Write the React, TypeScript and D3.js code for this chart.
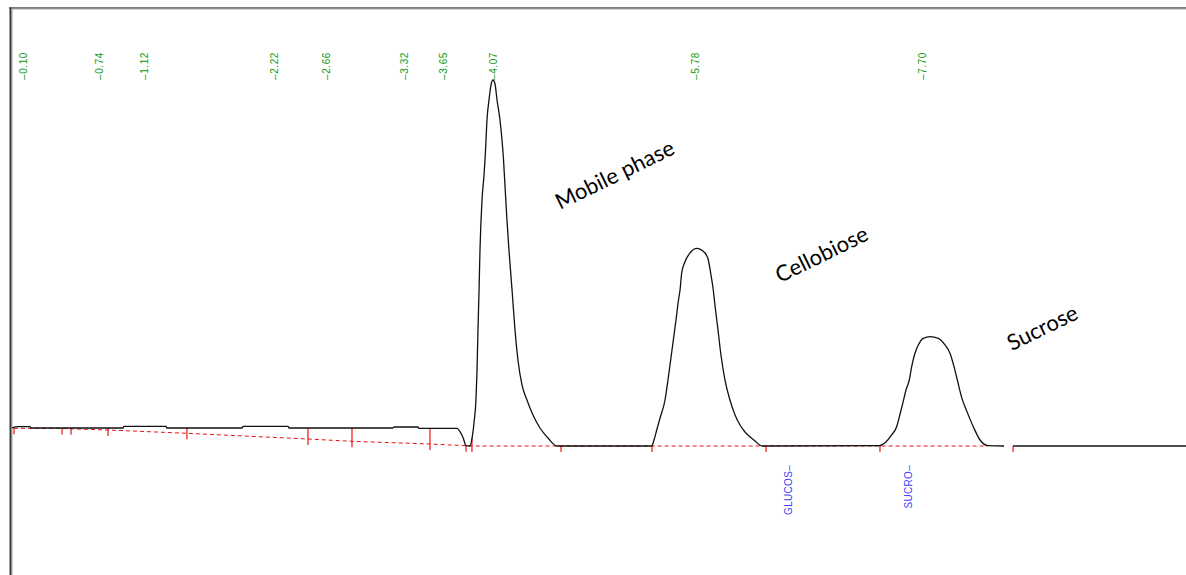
import React from 'react';
import * as d3 from 'd3';

const W = 1186;
const H = 575;

// Detector trace (retention time in min, signal in arbitrary mV, apex of mobile phase = 100)
const traceTime = [
  0, 0.051, 0.152, 0.161, 0.938, 0.947, 1.302, 1.31, 1.944, 1.953, 2.333, 2.342,
  3.221, 3.229, 3.432, 3.44, 3.762, 3.787, 3.815, 3.838, 3.872, 3.891,
  3.908, 3.922, 3.931, 3.939, 3.948, 3.956, 3.973, 3.99, 4.003, 4.015, 4.032, 4.049,
  4.066, 4.083, 4.1, 4.125, 4.142, 4.155, 4.167, 4.184, 4.201, 4.227, 4.252, 4.277,
  4.311, 4.353, 4.404, 4.463, 4.531, 4.607,
  5.408, 5.427, 5.45, 5.478, 5.52, 5.545, 5.579, 5.613, 5.634, 5.647, 5.661, 5.689,
  5.731, 5.788, 5.858, 5.886, 5.906, 5.928, 5.942, 5.968, 5.993, 6.027, 6.069, 6.112,
  6.154, 6.196, 6.238, 6.281, 6.34,
  7.331, 7.38, 7.436, 7.478, 7.506, 7.534, 7.557, 7.585, 7.605, 7.633, 7.661, 7.703,
  7.76, 7.83, 7.887, 7.929, 7.963, 7.991, 8.028, 8.07, 8.126, 8.183, 8.253, 8.386,
];
const traceSignal = [
  4.92, 5.27, 5.27, 4.92, 4.92, 5.38, 5.38, 4.92, 4.92, 5.38, 5.38, 4.92,
  4.92, 5.19, 5.19, 4.83, 4.83, 3.91, 2.1, 0.08, 0, 2.54,
  7.1, 12.57, 20.77, 31.69, 42.62, 53.55, 67.21, 74.04, 80.87, 89.07, 94.54, 98.63,
  100, 98.91, 94.54, 89.07, 83.61, 78.14, 71.31, 61.75, 53.55, 42.62, 31.69, 23.5,
  16.67, 12.57, 8.47, 4.92, 2.19, 0,
  0, 1.64, 4.37, 7.65, 12.57, 18.03, 26.23, 34.43, 39.89, 42.62, 47.27, 50.36,
  52.73, 54.02, 52.73, 50.82, 47.27, 42.62, 38.52, 31.69, 24.86, 18.03, 12.57, 8.47,
  5.74, 3.83, 2.54, 1.37, 0,
  0.08, 0.9, 3.01, 5.27, 8.6, 12.2, 15.3, 18.03, 21.67, 25.33, 27.6, 29.43,
  29.86, 29.43, 27.6, 25.33, 21.67, 18.03, 13.2, 9.6, 5.27, 1.64, 0.08, 0,
];
// Trace after the short gap
const tailTime = [8.462, 9.924];
const tailSignal = [0, 0];

// Integration baseline points (red dashed), at the integration event times
const baseTime = [0.017, 0.423, 0.499, 0.812, 1.479, 2.502, 2.874, 3.533, 3.838, 3.888, 4.641, 5.41, 6.374, 7.337, 8.25];
const baseSignal = [4.84, 4.78, 4.7, 4.37, 3.47, 1.91, 1.28, 0.55, 0.08, 0, 0, 0, 0, 0, 0];

// Integration event marks (red ticks)
const tickTimes = [0.017, 0.423, 0.499, 0.812, 1.479, 2.502, 2.874, 3.533, 3.838, 3.888, 4.641, 5.41, 6.374, 7.337, 8.462];

// Retention time labels
const rtLabels = ['0.10', '0.74', '1.12', '2.22', '2.66', '3.32', '3.65', '4.07', '5.78', '7.70'];

// Expected compound windows
const compoundNames = ['GLUCOS', 'SUCRO'];
const compoundTimes = [6.56, 7.58];

// Annotations (anchored in data coordinates)
const noteTexts = ['Mobile phase', 'Cellobiose', 'Sucrose'];
const noteTimes = [4.632, 6.492, 8.45];
const noteSignals = [64.5, 44.5, 25.9];

export default function App() {
  const x = d3.scaleLinear().domain([0, 9.924]).range([12, 1186]);
  const y = d3.scaleLinear().domain([0, 100]).range([446, 80]);

  const tracePts: [number, number][] = traceTime.map((t, i) => [t, traceSignal[i]]);
  const tailPts: [number, number][] = tailTime.map((t, i) => [t, tailSignal[i]]);
  const basePts: [number, number][] = baseTime.map((t, i) => [t, baseSignal[i]]);

  const line = d3
    .line<[number, number]>()
    .x((d) => x(d[0]))
    .y((d) => y(d[1]))
    .curve(d3.curveMonotoneX);
  const lineLin = d3
    .line<[number, number]>()
    .x((d) => x(d[0]))
    .y((d) => y(d[1]));

  const interp = (ts: number[], vs: number[], t: number) => {
    if (t <= ts[0]) return vs[0];
    if (t >= ts[ts.length - 1]) return vs[vs.length - 1];
    const i = d3.bisectRight(ts, t);
    const t0 = ts[i - 1], t1 = ts[i];
    const f = (t - t0) / (t1 - t0);
    return vs[i - 1] + f * (vs[i] - vs[i - 1]);
  };

  const allT = traceTime.concat(tailTime);
  const allS = traceSignal.concat(tailSignal);

  const green = '#119911';
  const blue = '#4040ff';
  const red = '#ee1111';

  return (
    <svg
      width={W}
      height={H}
      style={{ position: 'absolute', left: 0, top: 0, background: '#fff' }}
      xmlns="http://www.w3.org/2000/svg"
    >
      <rect x={0} y={0} width={W} height={H} fill="#fff" />
      {/* frame */}
      <rect x={9} y={7.5} width={1} height={H - 7.5} fill="#a0a0a0" />
      <rect x={10} y={7.5} width={1.6} height={H - 7.5} fill="#333" />
      <rect x={11.6} y={8.8} width={1} height={H - 8.8} fill="#b0b0b0" />
      <rect x={9} y={7.3} width={W - 9} height={1.4} fill="#444" />
      <rect x={11} y={8.7} width={W - 11} height={0.9} fill="#b5b5b5" />

      {/* integration baseline */}
      <path d={lineLin(basePts) || ''} fill="none" stroke={red} strokeWidth={1} strokeDasharray="4,3" />

      {/* event ticks */}
      {tickTimes.map((t, i) => {
        const top = y(interp(allT, allS, t));
        const bot = y(interp(baseTime, baseSignal, t)) + 6;
        return <line key={'tk' + i} x1={x(t)} x2={x(t)} y1={Math.min(top, bot - 6)} y2={bot} stroke={red} strokeWidth={1.2} />;
      })}

      {/* trace */}
      <path d={line(tracePts) || ''} fill="none" stroke="#111" strokeWidth={1.3} strokeLinejoin="round" />
      <path d={line(tailPts) || ''} fill="none" stroke="#111" strokeWidth={1.3} />

      {/* retention time labels */}
      {rtLabels.map((lab, i) => {
        const px = x(+lab);
        return (
          <text
            key={'rt' + i}
            transform={`translate(${px},80) rotate(-90)`}
            dy="0.35em"
            fontFamily="'Liberation Sans', Arial, sans-serif"
            fontSize={10}
            letterSpacing={0.6}
            fill={green}
          >
            {'–' + lab}
          </text>
        );
      })}

      {/* compound names */}
      {compoundNames.map((n, i) => (
        <text
          key={'cn' + i}
          transform={`translate(${x(compoundTimes[i])},465) rotate(-90)`}
          dy="0.35em"
          textAnchor="end"
          fontFamily="'Liberation Sans', Arial, sans-serif"
          fontSize={10}
          letterSpacing={0.3}
          fill={blue}
        >
          {n + '–'}
        </text>
      ))}

      {/* annotations */}
      {noteTexts.map((n, i) => (
        <text
          key={'nt' + i}
          transform={`translate(${x(noteTimes[i])},${y(noteSignals[i])}) rotate(-26)`}
          fontFamily="Lato, 'Open Sans', sans-serif"
          fontSize={22}
          fill="#000"
        >
          {n}
        </text>
      ))}
    </svg>
  );
}
